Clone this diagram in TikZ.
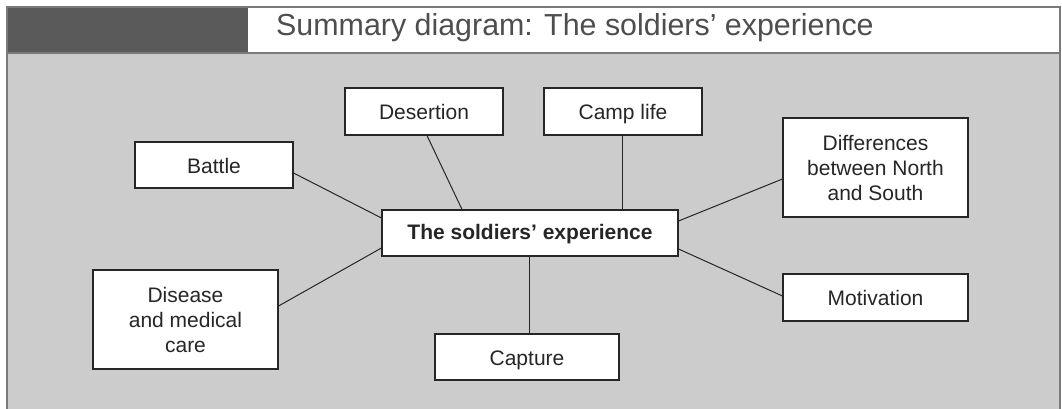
\documentclass[tikz,border=0pt]{standalone}
\usepackage{fontspec}
\setmainfont{Liberation Sans}
\definecolor{panelgrey}{HTML}{CCCCCC}
\definecolor{bandgrey}{HTML}{5A5A5A}
\definecolor{framegrey}{HTML}{7A7A7A}
\definecolor{titlegrey}{HTML}{4E4E4E}
\definecolor{inkgrey}{HTML}{262626}
\begin{document}
\begin{tikzpicture}[x=1pt,y=-1pt,
  topic/.style={draw=inkgrey,line width=1.1pt,fill=white,inner sep=0pt,
    align=center,font=\fontsize{21}{25}\selectfont,text=inkgrey},
  oneline/.style={text height=18pt,text depth=2pt},
  link/.style={draw=inkgrey,line width=1pt}]
  \useasboundingbox (0,0) rectangle (1062,409);
  % frame: grey panel with a title band on top
  \fill[panelgrey] (7,53) rectangle (1060,412);
  \fill[bandgrey] (7,7) rectangle (248,53);
  \fill[white] (248,7) rectangle (1060,53);
  \draw[framegrey,line width=1.2pt] (7,412) -- (7,7) -- (1060,7) -- (1060,412);
  \draw[framegrey,line width=1.2pt] (7,53) -- (1060,53);
  \node[anchor=base west,inner sep=0pt,text=titlegrey,
    font=\fontsize{30.4}{35}\selectfont] (title) at (276,36)
    {Summary diagram: The soldiers’ experience};

  % topics
  \node[topic,text height=16pt,text depth=4pt,minimum width=296,minimum height=46,
    font=\fontsize{21}{25}\selectfont\bfseries]
    (centre) at (530,233) {The soldiers’ experience};
  \node[topic,oneline,minimum width=158,minimum height=46] (battle) at (214,165) {Battle};
  \node[topic,oneline,minimum width=158,minimum height=47] (desertion) at (424,111.5) {Desertion};
  \node[topic,oneline,minimum width=158,minimum height=47] (camp) at (623,111.5) {Camp life};
  \node[topic,minimum width=185,minimum height=99] (diff) at (875.5,167.5)
    {Differences\\between North\\and South};
  \node[topic,oneline,minimum width=185,minimum height=47] (motiv) at (875.5,297.5) {Motivation};
  \node[topic,minimum width=185,minimum height=99] (disease) at (185.5,319.5)
    {Disease\\and medical\\care};
  \node[topic,oneline,minimum width=184,minimum height=46] (capture) at (527,357) {Capture};

  % spokes
  \draw[link] ([yshift=-8pt]battle.east) -- ([yshift=15pt]centre.west);
  \draw[link] ([xshift=3pt]desertion.south) -- ([xshift=-68pt]centre.north);
  \draw[link] ([xshift=-1pt]camp.south) -- ([xshift=-1pt]camp.south |- centre.north);
  \draw[link] ([yshift=12pt]centre.east) -- ([yshift=-11.5pt]diff.west);
  \draw[link] ([yshift=-16pt]centre.east) -- ([yshift=1.5pt]motiv.west);
  \draw[link] ([yshift=13.5pt]disease.east) -- ([yshift=-15pt]centre.west);
  \draw[link] ([xshift=2pt]capture.north |- centre.south) -- ([xshift=2pt]capture.north);
\end{tikzpicture}
\end{document}
